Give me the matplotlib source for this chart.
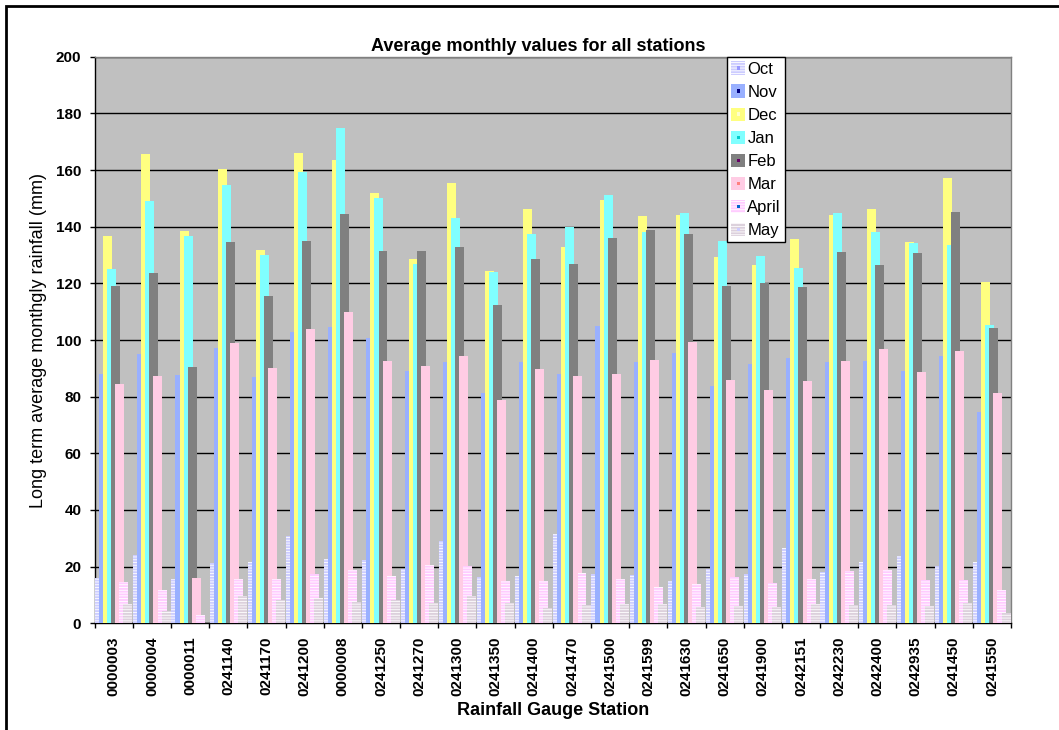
import matplotlib
matplotlib.use("Agg")
import matplotlib.pyplot as plt
import numpy as np
from matplotlib.patches import Rectangle
from matplotlib.legend_handler import HandlerBase

plt.rcParams['font.family'] = ['Liberation Sans', 'DejaVu Sans']
plt.rcParams['hatch.linewidth'] = 0.6

# Rainfall gauge stations
stations = ["0000003", "0000004", "0000011", "0241140", "0241170", "0241200",
            "0000008", "0241250", "0241270", "0241300", "0241350", "0241400",
            "0241470", "0241500", "0241599", "0241630", "0241650", "0241900",
            "0242151", "0242230", "0242400", "0242935", "0241450", "0241550"]

months = ["Oct", "Nov", "Dec", "Jan", "Feb", "Mar", "April", "May"]

# Long term average monthly rainfall (mm) per station
oct_ = [16.0, 24.2, 15.7, 21.3, 21.7, 30.8, 22.7, 22.3, 19.3, 29.1, 16.3, 16.7,
        31.5, 17.4, 17.0, 14.9, 19.3, 17.4, 26.6, 18.1, 21.7, 23.8, 20.2, 21.7]
nov = [88.1, 95.1, 87.7, 97.1, 86.8, 102.9, 104.6, 100.7, 89.0, 92.2, 81.3, 92.1,
       88.1, 105.0, 92.2, 95.3, 83.9, 91.6, 93.7, 92.2, 92.6, 89.0, 94.4, 74.6]
dec = [136.7, 165.7, 138.5, 160.4, 131.8, 166.1, 163.6, 151.9, 128.6, 155.5, 124.4, 146.3,
       133.0, 149.5, 143.8, 144.2, 129.2, 126.5, 135.7, 144.2, 146.3, 134.6, 157.2, 120.5]
jan = [125.0, 149.1, 136.7, 154.8, 130.1, 159.3, 174.9, 150.2, 126.9, 143.1, 124.0, 137.4,
       139.9, 151.2, 138.2, 144.8, 135.0, 129.7, 125.4, 144.8, 138.2, 134.2, 133.6, 105.4]
feb = [119.1, 123.7, 90.5, 134.6, 115.6, 135.0, 144.6, 131.4, 131.4, 132.9, 112.4, 128.6,
       126.9, 136.1, 138.9, 137.4, 119.1, 120.1, 118.8, 131.2, 126.5, 130.8, 145.2, 104.3]
mar = [84.5, 87.3, 16.0, 99.0, 90.1, 103.9, 109.9, 92.6, 90.9, 94.4, 78.8, 89.8,
       87.3, 88.0, 93.0, 99.3, 85.8, 82.4, 85.6, 92.6, 96.9, 88.8, 96.1, 81.3]
apr = [14.6, 11.7, 2.9, 15.7, 15.7, 17.4, 18.7, 16.7, 20.6, 20.2, 15.1, 14.9,
       17.7, 15.7, 12.8, 13.8, 16.3, 14.2, 15.7, 18.5, 18.7, 15.3, 15.3, 11.7]
may = [6.9, 4.3, 0.0, 9.6, 8.2, 8.9, 7.4, 8.2, 7.2, 9.6, 7.2, 5.3,
       6.4, 6.8, 6.8, 5.7, 6.1, 5.7, 6.8, 6.4, 6.4, 6.1, 7.2, 3.6]

series = [oct_, nov, dec, jan, feb, mar, apr, may]
fills = ['#ccccff', '#99b0ff', '#ffff80', '#80ffff', '#808080', '#ffcce4', '#ffccff', '#dcd0dc']
hatches = ['------', None, None, None, None, None, '------', '------']
inner = ['#9999ff', '#000080', '#ffffcc', '#00cccc', '#660066', '#ff8080', '#0066cc', '#ccccff']


class Swatch(HandlerBase):
    """Legend key: filled square with a small centre square."""
    def __init__(self, face, dot, hatch):
        super().__init__()
        self.face, self.dot, self.hatch = face, dot, hatch

    def create_artists(self, legend, orig_handle, xdescent, ydescent,
                       width, height, fontsize, trans):
        outer = Rectangle((-xdescent, -ydescent), width, height,
                          facecolor=self.face,
                          edgecolor='white' if self.hatch else self.face,
                          linewidth=0, hatch=self.hatch, transform=trans)
        s = 0.25 * height
        dot = Rectangle((-xdescent + (width - s) / 2, -ydescent + (height - s) / 2),
                        s, s, facecolor=self.dot, edgecolor='none', transform=trans)
        return [outer, dot]


W, H = 1059, 730
fig = plt.figure(figsize=(W / 100, H / 100), dpi=100)
ax = fig.add_axes([94.7 / W, (H - 623.3) / H, (1011 - 94.7) / W, (623.3 - 56.7) / H])
ax.set_facecolor('#c0c0c0')

x = np.arange(len(stations))
width, step, off0 = 0.235, 0.106, 0.01
containers = []
for i, (vals, fc, h) in enumerate(zip(series, fills, hatches)):
    c = ax.bar(x + off0 + i * step, vals, width=width, align='edge',
               color=fc, edgecolor='white' if h else fc, linewidth=0,
               hatch=h, zorder=3 + i)
    containers.append(c)

ax.set_xlim(0, len(stations))
ax.set_ylim(0, 200)
ax.set_yticks(np.arange(0, 201, 20))
ax.yaxis.grid(True, color='black', linewidth=1.0, zorder=1)
ax.set_axisbelow(True)

ax.set_xticks(np.arange(0, len(stations) + 1))
ax.set_xticklabels([])
ax.set_xticks(x + 0.5, minor=True)
ax.set_xticklabels(stations, minor=True, rotation=90, fontweight='bold', fontsize=11)
ax.tick_params(axis='x', which='minor', length=0, pad=9.4)
ax.tick_params(axis='x', which='major', length=3.6, width=1, color='black')
ax.tick_params(axis='y', length=3.6, width=1, pad=6, labelsize=11)
for lab in ax.get_yticklabels():
    lab.set_fontweight('bold')

ax.spines['left'].set_color('black')
ax.spines['bottom'].set_color('black')
ax.spines['top'].set_color('#808080')
ax.spines['right'].set_color('#808080')
for sp in ax.spines.values():
    sp.set_linewidth(1)

ax.set_ylabel('Long term average monthgly rainfall (mm)', fontsize=13)
ax.yaxis.set_label_coords((38.5 - 94.7) / (1011 - 94.7), 0.5)
ax.yaxis.label.set_verticalalignment('center')

ax.set_xlabel('Rainfall Gauge Station', fontsize=13, fontweight='bold')
ax.xaxis.set_label_coords(0.5, (623.3 - 702) / (623.3 - 56.7))

fig.text(538.5 / W, (H - 51) / H, 'Average monthly values for all stations',
         ha='center', va='baseline', fontsize=13, fontweight='bold')

handler_map = {c: Swatch(f, d, h) for c, f, d, h in zip(containers, fills, inner, hatches)}
leg = ax.legend(containers, months, handler_map=handler_map,
                loc='upper left', bbox_to_anchor=(727.3 / W, (H - 57.3) / H),
                bbox_transform=fig.transFigure, borderaxespad=0,
                frameon=True, fancybox=False, edgecolor='black', framealpha=1,
                facecolor='white', fontsize=12, handlelength=0.84, handleheight=0.84,
                handletextpad=0.12, labelspacing=0.46, borderpad=0.25)
leg.get_frame().set_linewidth(1)
leg.set_zorder(20)

# outer chart border
fig.add_artist(Rectangle((6 / W, -0.5), 2, (H - 6) / H + 0.5, transform=fig.transFigure,
                         fill=False, edgecolor='black', linewidth=2))

fig.savefig('out.png', dpi=100)
